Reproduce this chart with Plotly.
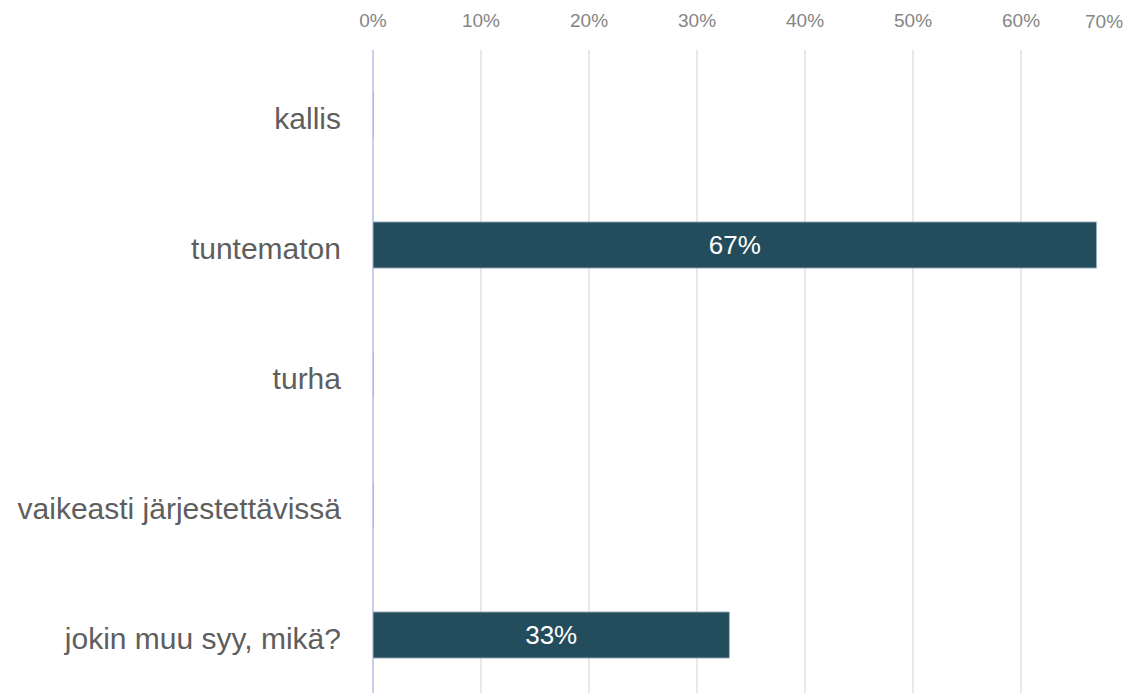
import plotly.graph_objects as go

categories = ["kallis", "tuntematon", "turha", "vaikeasti järjestettävissä", "jokin muu syy, mikä?"]
values = [0, 67, 0, 0, 33]
tick_values = [0, 10, 20, 30, 40, 50, 60]
tick_labels = ["0%", "10%", "20%", "30%", "40%", "50%", "60%"]
extra_tick_label = "70%"

bar_text = [f"{v}%" if v > 0 else "" for v in values]

FONT = "Liberation Sans, Arial, sans-serif"

fig = go.Figure()
fig.add_trace(go.Bar(
    y=categories,
    x=values,
    orientation="h",
    width=0.355,
    marker=dict(color="#234d5c", line=dict(color="#9fb3bf", width=1)),
    text=bar_text,
    textposition="inside",
    insidetextanchor="middle",
    textfont=dict(color="white", size=26, family=FONT),
    hoverinfo="skip",
))

fig.update_layout(
    width=1126,
    height=693,
    margin=dict(l=373, r=0, t=50, b=0),
    paper_bgcolor="white",
    plot_bgcolor="white",
    showlegend=False,
    font=dict(family=FONT),
    uniformtext=dict(minsize=8, mode="show"),
    xaxis=dict(
        side="top",
        range=[0, 69.72],
        tickvals=tick_values,
        ticktext=tick_labels,
        tickfont=dict(size=19, color="#858585"),
        showgrid=True,
        gridcolor="#e8e8e8",
        gridwidth=1.5,
        zeroline=True,
        zerolinecolor="#c9d0ea",
        zerolinewidth=1.5,
        showline=False,
        ticks="",
        ticklabelstandoff=18,
        fixedrange=True,
    ),
    yaxis=dict(
        categoryorder="array",
        categoryarray=categories,
        range=[4.446, -0.5],
        tickfont=dict(size=30, color="#5e5e5e"),
        showgrid=False,
        zeroline=False,
        showline=False,
        ticks="",
        ticklabelstandoff=31,
        ticklabelshift=-3,
        fixedrange=True,
    ),
)

fig.add_annotation(
    x=1.0, xref="paper", xanchor="right",
    y=1.044, yref="paper", yanchor="middle",
    text=extra_tick_label, showarrow=False,
    font=dict(size=19, color="#858585"),
    xshift=-1,
)

fig.write_html("out.html")
